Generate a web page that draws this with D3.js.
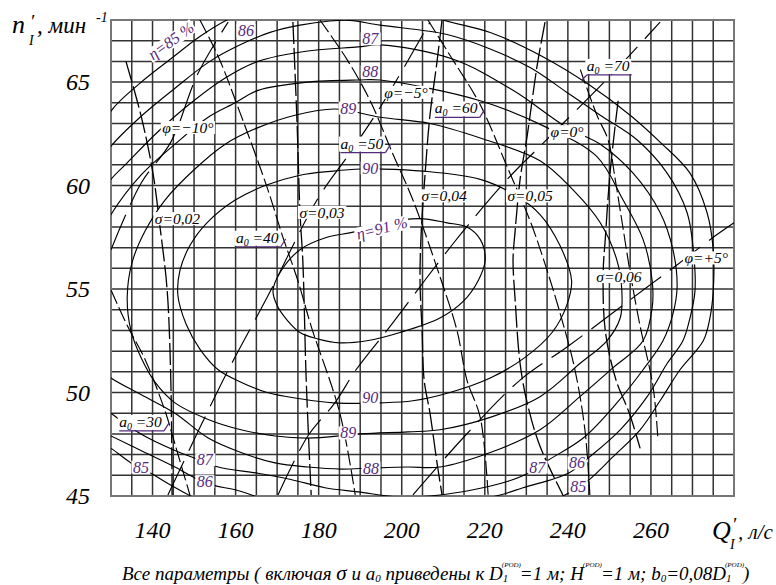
<!DOCTYPE html>
<html>
<head>
<meta charset="utf-8">
<script src="https://cdn.jsdelivr.net/npm/d3@7"></script>
<style>
  html, body { margin: 0; padding: 0; background: #fff; }
  text { white-space: pre; }
</style>
</head>
<body>
<div id="chart"></div>
<script>
// ---- data (Q'1 in l/s, n'1 in rpm) ----
const xTicks = [140, 160, 180, 200, 220, 240, 260];
const yTicks = [45, 50, 55, 60, 65];

// efficiency contours
const eta91 = [[188.3,57.75],[182.0,57.5],[175.5,56.9],[170.7,55.8],[169.0,54.9],[170.0,54.2],[172.4,53.5],[175.5,52.9],[179.6,52.6],[185.1,52.4],[191.6,52.5],[199.6,52.9],[209.2,53.6],[214.8,54.4],[218.4,55.4],[220.1,56.4],[218.9,57.4],[215.7,58.0],[210.9,58.2],[204.4,58.4],[196.0,58.2]];
const eta90 = [[194.8,60.8],[205.1,60.7],[218.9,60.3],[226.8,59.6],[233.3,58.6],[238.1,57.1],[240.9,55.4],[239.7,54.2],[236.2,52.9],[229.7,51.7],[221.3,50.7],[211.6,50.0],[202.7,49.6],[194.8,49.5],[183.5,49.5],[175.5,49.7],[167.6,50.0],[161.3,50.5],[155.8,51.1],[151.4,52.1],[148.1,53.3],[146.1,54.7],[146.6,55.9],[149.0,57.1],[153.1,58.2],[159.9,59.3],[167.1,60.0],[175.5,60.5],[183.5,60.7],[190.2,60.8]];
const eta89 = [[194.8,63.3],[206.8,63.0],[218.9,62.3],[233.3,61.2],[241.2,59.8],[247.8,58.2],[251.8,56.4],[253.0,54.9],[252.6,53.6],[249.4,52.5],[242.9,51.4],[233.3,49.8],[221.3,48.8],[209.2,48.2],[201.5,48.1],[190.2,48.0],[177.4,47.8],[169.5,47.9],[161.3,48.2],[153.4,48.7],[145.4,49.5],[140.6,50.5],[137.2,51.7],[134.8,53.0],[133.9,54.6],[135.1,56.3],[138.2,57.8],[143.0,59.3],[150.2,60.8],[157.5,62.0],[165.4,62.8],[174.3,63.4],[183.9,63.7]];
const eta88 = [[127,57.4],[130.0,58.6],[137.2,60.5],[145.4,62.0],[153.4,63.3],[159.9,64.0],[165.4,64.6],[177.4,65.0],[189.5,65.1],[194.8,65.1],[218.9,64.1],[235.0,62.8],[247.0,61.4],[253.3,59.3],[258.1,57.4],[260.3,55.4],[260.3,54.1],[258.1,52.5],[250.9,51.2],[242.9,49.8],[233.3,48.2],[221.3,47.1],[209.2,46.4],[201.5,46.4],[192.6,46.35],[185.4,46.3],[177.4,46.4],[169.5,46.6],[161.3,47.1],[153.4,47.8],[145.4,49.0],[137.2,49.9],[130.0,50.7],[127,51.2]];
const eta87 = [[127,59.3],[130.0,60.3],[133.4,61.0],[141.3,62.6],[149.3,64.0],[157.5,65.2],[165.4,66.0],[177.4,66.5],[189.5,66.7],[194.8,66.8],[212.4,66.1],[226.8,64.6],[239.8,62.8],[247.8,62.0],[255.7,60.6],[262.2,58.7],[265.3,56.9],[266.3,55.1],[265.3,53.8],[262.9,52.5],[258.1,51.1],[251.8,49.5],[243.7,47.8],[235.0,46.7],[230.4,46.1],[225.4,45.7],[217.2,45.3],[209.2,45.05],[199.6,44.95],[189.5,45.2],[181.5,45.4],[173.3,45.8],[165.4,46.1],[155.8,46.4],[150.5,46.8],[145.4,47.2],[137.2,48.0],[130.0,49.0],[127,49.5]];
const eta86 = [[127,61.0],[130.0,61.9],[137.0,63.3],[145.4,64.7],[153.8,66.0],[161.1,66.8],[168.3,67.4],[175.5,67.75],[182.7,67.95],[187.5,67.98],[194.8,67.75],[210.9,67.3],[221.3,66.6],[230.9,65.7],[239.8,64.5],[247.8,63.4],[256.7,62.2],[263.9,60.6],[268.7,58.7],[270.2,56.9],[270.6,54.9],[269.4,53.6],[267.7,52.5],[263.9,51.4],[259.1,49.8],[252.6,48.2],[245.3,46.9],[240.1,46.1],[229.2,45.4],[223.7,45.05],[210.0,44.5],[190.0,44.3],[170.0,44.7],[159.9,45.3],[155.0,45.5],[150.9,45.8],[145.4,46.4],[137.2,47.2],[130.0,47.9],[127,48.2]];
const eta85 = [[127,62.3],[130.0,63.6],[137.0,64.95],[144.9,66.2],[151.4,67.2],[157.9,68.0],[170.0,69.0],[190.0,69.3],[209.9,68.0],[221.3,67.4],[233.3,66.3],[245.3,64.85],[255.0,63.4],[262.2,62.1],[269.4,60.6],[273.5,58.7],[275.0,56.9],[275.0,54.9],[274.2,53.6],[272.6,52.5],[267.0,51.1],[262.2,49.6],[257.4,48.2],[250.9,46.9],[244.6,45.7],[239.3,45.05],[220.0,43.8],[190.0,43.5],[160.0,44.0],[147.8,45.15],[143.7,45.6],[139.6,46.1],[134.8,46.6],[130.0,47.3],[127,47.6]];

// guide vane opening a0 lines
const a0_30 = [[130.0,54.95],[134.0,53.2],[138.2,51.6],[143.2,49.0],[144.9,47.85],[149.0,45.05]];
const a0_40 = [[151.4,68.0],[155.9,66.2],[161.1,63.5],[167.6,59.9],[171.4,57.5],[175.0,55.4],[178.2,53.2],[185.1,49.0],[188.8,45.05]];
const a0_50 = [[180.3,68.0],[186.8,66.1],[192.4,64.1],[197.7,61.6],[202.7,59.3],[209.2,55.6],[213.3,53.0],[215.7,50.6],[218.9,48.8],[220.8,45.05]];
const a0_60 = [[206.3,68.0],[211.6,66.3],[218.9,63.9],[225.6,60.8],[230.9,58.3],[235.0,55.9],[238.6,53.5],[241.7,51.1],[244.1,48.2],[245.3,45.05]];
const a0_70 = [[243.0,65.6],[247.0,63.4],[249.7,62.2],[251.4,60.3],[253.0,58.3],[255.0,55.8],[257.4,53.2],[260.5,50.3],[261.7,47.7]];

// blade angle phi lines
const phiM10 = [[130.0,56.9],[137.2,60.1],[144.4,62.1],[150.9,65.4],[158.2,67.9]];
const phiM5 = [[143.7,45.05],[157.0,50.6],[167.6,54.6],[179.6,59.3],[187.6,61.6],[195.5,64.0],[206.8,67.9]];
const phi0 = [[170.2,45.05],[177.4,47.9],[183.9,49.5],[189.0,51.1],[197.2,53.2],[212.4,57.2],[225.4,60.3],[233.8,62.0],[250.2,65.3],[262.2,67.9]];
const phiP5 = [[202.7,45.05],[215.2,47.9],[228.5,50.6],[239.8,52.2],[251.8,54.0],[259.8,55.2],[266.5,56.2],[275.0,57.5],[280.0,58.2]];

// cavitation sigma lines
const sig02 = [[133.6,66.0],[137.2,63.4],[140.1,60.6],[141.8,58.0],[143.5,55.0],[144.4,50.6],[144.7,45.05]];
const sig03 = [[173.8,67.9],[174.8,63.0],[175.5,58.7],[176.2,56.3],[177.0,50.6],[178.2,45.05]];
const sig04 = [[209.7,68.0],[208.5,66.0],[206.8,63.4],[205.6,60.5],[204.7,57.8],[204.4,55.4],[204.9,53.0],[205.4,50.6],[206.8,49.0],[208.5,46.6],[209.7,45.05]];
const sig05 = [[234.5,67.9],[232.6,65.8],[230.2,62.4],[228.5,60.3],[227.3,57.8],[226.8,56.4],[227.3,54.5],[228.5,51.4],[230.2,49.5],[233.3,47.4],[238.8,45.05]];
const sig06 = [[252.1,64.1],[250.2,60.7],[249.0,57.4],[248.5,55.8],[249.0,53.0],[251.6,50.6],[254.8,49.0],[257.4,47.3]];

// label anchors [text, Q, n, angle]
const etaLabels = [
  ["η=85 %", 144.4, 67.0, -36], ["86", 162.5, 67.5, 0], ["87", 192.4, 67.1, 0],
  ["88", 192.4, 65.5, 0], ["89", 187.1, 63.75, 0], ["90", 192.4, 60.85, 0],
  ["η=91 %", 195.2, 57.95, -14], ["90", 192.4, 49.75, 0], ["89", 187.1, 48.05, 0],
  ["88", 192.6, 46.35, 0], ["87", 152.6, 46.75, 0], ["86", 152.6, 45.7, 0],
  ["85", 137.2, 46.4, 0], ["87", 232.6, 46.4, 0], ["86", 242.2, 46.6, 0], ["85", 242.5, 45.45, 0]
];
const sigmaLabels = [["σ=0,02", 146.0, 58.4], ["σ=0,03", 180.8, 58.7], ["σ=0,04", 210.2, 59.5], ["σ=0,05", 230.9, 59.5], ["σ=0,06", 252.3, 55.6]];
const phiLabels = [["φ=−10°", 148.5, 62.8], ["φ=−5°", 201.0, 64.5], ["φ=0°", 239.8, 62.6], ["φ=+5°", 273.3, 56.5]];
const a0Labels = [["30", 137.1, 48.6, "right"], ["40", 165.2, 57.5, "right"], ["50", 190.4, 62.05, "right"], ["60", 213.1, 63.75, "right"], ["70", 249.7, 65.8, "left"]];

// ---- layout ----
const width = 776, height = 585;
const plot = { left: 111, right: 734, top: 20, bottom: 496 };
const purple = "#552a7c";

const x = d3.scaleLinear().domain([130, 280]).range([plot.left, plot.right]);
const y = d3.scaleLinear().domain([45, 68]).range([plot.bottom, plot.top]);

const svg = d3.select("#chart").append("svg")
  .attr("width", width).attr("height", height)
  .attr("font-family", "'Liberation Serif'")
  .attr("font-style", "italic")
  .style("display", "block");

svg.append("defs").append("clipPath").attr("id", "clip")
  .append("rect")
  .attr("x", plot.left).attr("y", plot.top)
  .attr("width", plot.right - plot.left).attr("height", plot.bottom - plot.top);

// grid
const grid = svg.append("g");
grid.selectAll("line.v").data(d3.range(130, 280.1, 5)).join("line")
  .attr("x1", d => x(d)).attr("x2", d => x(d))
  .attr("y1", plot.top).attr("y2", plot.bottom)
  .attr("stroke", "#333").attr("stroke-width", 1.5);
grid.selectAll("line.h").data(d3.range(45, 68.1, 1)).join("line")
  .attr("x1", plot.left).attr("x2", plot.right)
  .attr("y1", d => y(d)).attr("y2", d => y(d))
  .attr("stroke", "#333").attr("stroke-width", 1.5);
grid.append("rect")
  .attr("x", plot.left).attr("y", plot.top)
  .attr("width", plot.right - plot.left).attr("height", plot.bottom - plot.top)
  .attr("fill", "none").attr("stroke", "#777").attr("stroke-width", 2);

// curves
const curves = svg.append("g").attr("clip-path", "url(#clip)")
  .attr("fill", "none").attr("stroke", "#000").attr("stroke-width", 1.15);

const open = d3.line().x(d => x(d[0])).y(d => y(d[1])).curve(d3.curveCatmullRom.alpha(0.5));
const closed = d3.line().x(d => x(d[0])).y(d => y(d[1])).curve(d3.curveCatmullRomClosed.alpha(0.5));

[eta91, eta90, eta89].forEach(c => curves.append("path").attr("d", closed(c)));
[eta88, eta87, eta86, eta85].forEach(c => curves.append("path").attr("d", open(c)));

[a0_30, a0_40, a0_50, a0_60, a0_70].forEach(c =>
  curves.append("path").attr("d", open(c)).attr("stroke-dasharray", "15,4"));
[phiM10, phiM5, phi0, phiP5].forEach(c =>
  curves.append("path").attr("d", open(c)).attr("stroke-dasharray", "38,11"));
[sig02, sig03, sig04, sig05, sig06].forEach(c =>
  curves.append("path").attr("d", open(c)).attr("stroke-dasharray", "22,4").attr("stroke-width", 1.3));

// labels with white boxes
const labels = svg.append("g");

function boxLabel(px, py, build, angle = 0, size = 16, fill = "#000") {
  const grp = labels.append("g").attr("transform", `translate(${px},${py}) rotate(${angle})`);
  const bg = grp.append("rect").attr("fill", "#fff");
  const t = grp.append("text")
    .attr("text-anchor", "middle").attr("dy", "0.35em")
    .attr("font-size", size).attr("fill", fill);
  build(t);
  const b = t.node().getBBox();
  bg.attr("x", b.x - 1.5).attr("y", b.y + 2).attr("width", b.width + 3).attr("height", b.height - 4);
  return { grp, b };
}

etaLabels.forEach(([txt, q, n, a]) =>
  boxLabel(x(q), y(n), t => t.text(txt), a, 16, purple));
sigmaLabels.forEach(([txt, q, n]) => boxLabel(x(q), y(n), t => t.text(txt), 0, 15.5));
phiLabels.forEach(([txt, q, n]) => boxLabel(x(q), y(n), t => t.text(txt), 0, 15.5));

a0Labels.forEach(([v, q, n, side]) => {
  const { grp, b } = boxLabel(x(q), y(n), t => {
    t.append("tspan").text("a");
    t.append("tspan").attr("font-size", 10).attr("dy", 3).text("0");
    t.append("tspan").attr("dy", -3).text(" =" + v);
  }, 0, 15.5);
  const uy = b.y + b.height - 1;
  grp.append("line")
    .attr("x1", b.x).attr("x2", b.x + b.width + 2)
    .attr("y1", uy).attr("y2", uy)
    .attr("stroke", purple).attr("stroke-width", 1.2);
  const tick = side === "right"
    ? [b.x + b.width + 2, uy, b.x + b.width + 7, uy - 8]
    : [b.x, uy, b.x - 5, uy + 5];
  grp.append("line")
    .attr("x1", tick[0]).attr("y1", tick[1]).attr("x2", tick[2]).attr("y2", tick[3])
    .attr("stroke", purple).attr("stroke-width", 1.2);
});

// axes tick labels
svg.append("g").selectAll("text").data(xTicks).join("text")
  .attr("x", d => x(d)).attr("y", 538)
  .attr("text-anchor", "middle").attr("font-size", 24)
  .text(d => d);
svg.append("g").selectAll("text").data(yTicks).join("text")
  .attr("x", 90).attr("y", d => y(d) + 8)
  .attr("text-anchor", "end").attr("font-size", 24)
  .text(d => d);

// axis titles
const yt = svg.append("g");
yt.append("text").attr("x", 12).attr("y", 33).attr("font-size", 26).text("n");
yt.append("text").attr("x", 30).attr("y", 28).attr("font-size", 19).text("′");
yt.append("text").attr("x", 29).attr("y", 45).attr("font-size", 14).text("I");
yt.append("text").attr("x", 37).attr("y", 33).attr("font-size", 23).text(", мин");
yt.append("text").attr("x", 96).attr("y", 22).attr("font-size", 14).text("-1");

const xt = svg.append("g");
xt.append("text").attr("x", 712).attr("y", 539).attr("font-size", 26).text("Q");
xt.append("text").attr("x", 732).attr("y", 531).attr("font-size", 19).text("′");
xt.append("text").attr("x", 730).attr("y", 549).attr("font-size", 14).text("I");
xt.append("text").attr("x", 738).attr("y", 539).attr("font-size", 21).text(", л/с");

// footnote, built piece by piece
const fn = svg.append("g");
let cx = 122;
const base = 580;
function piece(t, size = 19, dy = 0, over = null) {
  const el = fn.append("text").attr("x", cx).attr("y", base + dy).attr("font-size", size).text(t);
  let w = el.node().getComputedTextLength();
  if (over) {
    const o = fn.append("text").attr("x", cx - 1).attr("y", base - 13).attr("font-size", 7).text(over);
    w = Math.max(w, o.node().getComputedTextLength() - 2);
  }
  cx += w;
}
piece("Все параметры ( включая ");
piece("σ", 21);
piece(" и a");
piece("0", 11, 2);
piece(" приведены к D");
piece("1", 11, 2, "(POD)");
piece("=1 м; H");
piece("", 11, 0, "(POD)");
piece("=1 м; b");
piece("0", 11, 2);
piece("=0,08D");
piece("1", 11, 2, "(POD)");
piece(")");
</script>
</body>
</html>
